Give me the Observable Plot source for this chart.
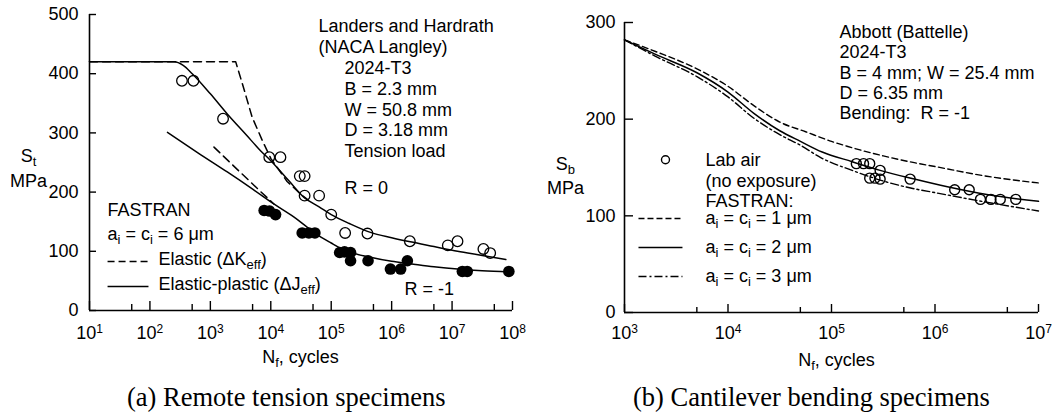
<!DOCTYPE html>
<html><head><meta charset="utf-8">
<script src="https://cdn.jsdelivr.net/npm/d3@7"></script>
<script src="https://cdn.jsdelivr.net/npm/@observablehq/plot@0.6"></script>
<style>
body{margin:0;background:#fff;}
#wrap{position:relative;width:1052px;height:417px;overflow:hidden;background:#fff;}
#left{position:absolute;left:0;top:0;}
#right{position:absolute;left:530px;top:0;}
.cap{position:absolute;top:382px;font-family:"Liberation Serif","Times New Roman",serif;font-size:26.5px;line-height:30px;white-space:nowrap;color:#000;}
</style></head><body>
<div id="wrap"><div id="left"></div><div id="right"></div>
<div class="cap" style="left:127px">(a) Remote tension specimens</div>
<div class="cap" style="left:633px">(b) Cantilever bending specimens</div></div>
<script>
// ---------- (a) Remote tension (Landers and Hardrath) ----------
const tensionR0N = [339, 525, 1622, 9440, 14450, 30200, 36300, 36300, 63100, 100000, 170000, 398000, 2.0e6, 8.5e6, 1.23e7, 3.3e7, 4.27e7];
const tensionR0S = [388, 388, 324, 259, 259, 227, 227, 194, 194, 162, 131, 130, 117, 110, 117, 104, 97];
const tensionRm1N = [7760, 9550, 12000, 33100, 42700, 53700, 138000, 166000, 209000, 209000, 407000, 955000, 1.41e6, 1.82e6, 1.48e7, 1.78e7, 8.7e7];
const tensionRm1S = [169, 168, 162, 131, 131, 131, 98, 99, 98, 84, 84, 70, 70, 84, 66, 66, 66];
// FASTRAN predictions
const epR0N = [10, 251, 355, 501, 1000, 1905, 3981, 6761, 10000, 19950, 35480, 63100, 1e5, 199500, 446700, 1e6, 2.04e6, 5.01e6, 1.23e7, 3.16e7, 7.76e7];
const epR0S = [420, 420, 414, 400, 366, 332, 296, 270, 253, 219, 191, 175, 162, 147, 132, 123, 116, 108, 100, 93, 86];
const eR0N = [10, 2630, 3388, 4898, 7244, 10000, 18620, 31620, 39810];
const eR0S = [420, 420, 383, 327, 287, 257, 218, 196, 188];
const epRm1N = [195, 631, 1905, 5012, 11220, 23990, 39810, 63100, 1e5, 144500, 199500, 446700, 1e6, 2.04e6, 5.01e6, 1.23e7, 3.16e7, 8.91e7];
const epRm1S = [301, 266, 234, 205, 180, 158, 141, 126, 114, 105, 99, 90, 83, 79, 74, 70, 67, 65];
const eRm1N = [1148, 3162, 6310, 11220];
const eRm1S = [276, 233, 204, 180];
const leftMajorTicks = [1e1, 1e2, 1e3, 1e4, 1e5, 1e6, 1e7, 1e8];
const leftMinorTicks = [5e1, 5e2, 5e3, 5e4, 5e5, 5e6, 5e7];
const leftYTicks = [0, 100, 200, 300, 400, 500];

// ---------- (b) Cantilever bending (Abbott) ----------
const labAirN = [173800, 204000, 234000, 295000, 234000, 263000, 295000, 575000, 1.55e6, 2.14e6, 2.75e6, 3.47e6, 4.27e6, 6.03e6];
const labAirS = [154, 154, 154, 147, 139, 139, 138, 138, 127, 127, 117, 117, 117, 117];
const a1N = [1000, 1995, 5012, 10000, 17780, 31620, 56230, 100000, 141300, 316200, 631000, 1e6, 3.162e6, 1e7];
const a1S = [282, 270, 252, 234, 214, 197, 187, 177, 172, 162, 155, 151, 141, 134];
const a2N = [1000, 1995, 5012, 10000, 17780, 31620, 50120, 81280, 158500, 295100, 631000, 1.318e6, 3.162e6, 1e7];
const a2S = [282, 267, 248, 228, 206, 188, 177, 166, 156, 147, 138, 130, 122, 115];
const a3N = [1000, 1995, 5012, 10000, 17780, 31620, 50120, 79430, 158500, 316200, 631000, 1e6, 2.512e6, 1e7];
const a3S = [282, 265, 244, 223, 201, 184, 173, 160, 147, 136, 128, 124, 116, 105];
const rightMajorTicks = [1e3, 1e4, 1e5, 1e6, 1e7];
const rightMinorTicks = [5e3, 5e4, 5e5, 5e6];
const rightYTicks = [0, 100, 200, 300];

const rows = (N, S) => N.map((n, i) => ({n, s: S[i]}));
const pow10 = d => `10^{${Math.round(Math.log10(d))}}`;
const font = {fontFamily: "'Liberation Sans', Arial, sans-serif", fontSize: "18px", background: "white", color: "black", overflow: "visible"};
const K = "black";

// turn _{..} / ^{..} into real sub/superscript tspans
function rich(svg) {
  const NS = "http://www.w3.org/2000/svg";
  svg.querySelectorAll("text, tspan").forEach(el => {
    if (el.children.length) return;
    const s = el.textContent;
    if (!/[_^]\{/.test(s)) return;
    el.textContent = "";
    let cur = 0;
    const add = (t, shift) => {
      const ts = document.createElementNS(NS, "tspan");
      ts.textContent = t;
      if (shift !== 0) ts.setAttribute("font-size", shift > 0 ? "13px" : "12px");
      const d = shift - cur;
      if (d !== 0) ts.setAttribute("dy", d);
      cur = shift;
      el.appendChild(ts);
    };
    const re = /([_^])\{([^}]*)\}/g;
    let last = 0, m;
    while ((m = re.exec(s))) {
      if (m.index > last) add(s.slice(last, m.index), 0);
      add(m[2], m[1] === "_" ? 4 : -6);
      last = re.lastIndex;
    }
    if (last < s.length) add(s.slice(last), 0);
  });
  return svg;
}

const txt = (t, o) => Plot.text([t], {text: d => d, fill: K, fontSize: 18, ...o});

// inward ticks: one short rule per tick from the axis into the plot (lengths in pixels)
function inwardTicks(dims, xDom, yDom, xMaj, xMin, yT, lens) {
  const fw = dims.width - dims.marginLeft - dims.marginRight;
  const fh = dims.height - dims.marginTop - dims.marginBottom;
  const yPer = (yDom[1] - yDom[0]) / fh;
  const decPer = Math.log10(xDom[1] / xDom[0]) / fw;
  const tx = (ticks, len) => Plot.ruleX(ticks, {x: d => d, y1: () => yDom[0], y2: () => yDom[0] + len * yPer, stroke: K, strokeWidth: 1.4});
  return [
    tx(xMaj, lens.xMaj), tx(xMin, lens.xMin),
    Plot.ruleY(yT, {y: d => d, x1: () => xDom[0], x2: () => xDom[0] * Math.pow(10, lens.y * decPer), stroke: K, strokeWidth: 1.4})
  ];
}

const L = {width: 530, height: 370, marginLeft: 89, marginRight: 18, marginTop: 14, marginBottom: 60};
const Lx = [10, 1e8], Ly = [0, 500];
const left = Plot.plot({
  ...L,
  style: font,
  x: {type: "log", domain: Lx},
  y: {domain: Ly},
  marks: [
    Plot.axisY({ticks: leftYTicks, tickSize: 0, tickPadding: 11, tickFormat: d => String(d), label: null, fill: K}),
    Plot.axisX({ticks: leftMajorTicks, tickSize: 0, tickPadding: 15.6, tickFormat: pow10, label: null, fill: K}),
    Plot.ruleX([10], {stroke: K, strokeWidth: 1.6}),
    Plot.ruleY([0], {stroke: K, strokeWidth: 1.6}),
    ...inwardTicks(L, Lx, Ly, leftMajorTicks, leftMinorTicks, leftYTicks, {xMaj: 9, xMin: 6, y: 7}),
    Plot.line(rows(eR0N, eR0S), {x: "n", y: "s", stroke: K, strokeWidth: 1.5, strokeDasharray: "8,5"}),
    Plot.line(rows(eRm1N, eRm1S), {x: "n", y: "s", stroke: K, strokeWidth: 1.5, strokeDasharray: "8,5"}),
    Plot.line(rows(epR0N, epR0S), {x: "n", y: "s", stroke: K, strokeWidth: 1.5, curve: "monotone-x"}),
    Plot.line(rows(epRm1N, epRm1S), {x: "n", y: "s", stroke: K, strokeWidth: 1.5, curve: "monotone-x"}),
    Plot.dot(rows(tensionR0N, tensionR0S), {x: "n", y: "s", r: 5.3, stroke: K, strokeWidth: 1.3, fill: "none"}),
    Plot.dot(rows(tensionRm1N, tensionRm1S), {x: "n", y: "s", r: 5.8, fill: K, stroke: "none"}),
    // annotations
    txt("Landers and Hardrath\n(NACA Langley)", {x: 61660, y: 463.7, textAnchor: "start", lineHeight: 1.167}),
    txt("2024-T3\nB = 2.3 mm\nW = 50.8 mm\nD = 3.18 mm\nTension load", {x: 1.66e5, y: 340.4, textAnchor: "start", lineHeight: 1.153}),
    txt("R = 0", {x: 1.66e5, y: 206, textAnchor: "start"}),
    txt("R = -1", {x: 1.63e6, y: 35.5, textAnchor: "start"}),
    txt("FASTRAN\na_{i} = c_{i} = 6 \u03bcm", {x: 19.9, y: 152, textAnchor: "start", lineHeight: 1.333}),
    Plot.link([0], {x1: 19.9, x2: 94.6, y1: 82.8, y2: 82.8, stroke: K, strokeWidth: 1.5, strokeDasharray: "7,4"}),
    Plot.link([0], {x1: 19.9, x2: 94.6, y1: 40.5, y2: 40.5, stroke: K, strokeWidth: 1.5}),
    txt("Elastic (\u0394K_{eff})", {x: 138.6, y: 86.1, textAnchor: "start"}),
    txt("Elastic-plastic (\u0394J_{eff})", {x: 138.6, y: 43.9, textAnchor: "start"}),
    txt("S_{t}\nMPa", {x: 0.979, y: 244, textAnchor: "middle", lineHeight: 1.167}),
    txt("N_{f}, cycles", {x: 31000, y: -79.4, textAnchor: "middle"})
  ]
});

const R = {width: 522, height: 370, marginLeft: 94, marginRight: 14, marginTop: 22, marginBottom: 58};
const Rx = [1e3, 1e7], Ry = [0, 300];
const right = Plot.plot({
  ...R,
  style: font,
  x: {type: "log", domain: Rx},
  y: {domain: Ry},
  marks: [
    Plot.axisY({ticks: rightYTicks, tickSize: 0, tickPadding: 9, tickFormat: d => String(d), label: null, fill: K}),
    Plot.axisX({ticks: rightMajorTicks, tickSize: 0, tickPadding: 13.6, tickFormat: pow10, label: null, fill: K}),
    Plot.ruleX([1e3], {stroke: K, strokeWidth: 1.6}),
    Plot.ruleY([0], {stroke: K, strokeWidth: 1.6}),
    ...inwardTicks(R, Rx, Ry, rightMajorTicks, rightMinorTicks, rightYTicks, {xMaj: 8, xMin: 5, y: 9}),
    Plot.line(rows(a1N, a1S), {x: "n", y: "s", stroke: K, strokeWidth: 1.4, strokeDasharray: "6,3.5", curve: "monotone-x"}),
    Plot.line(rows(a2N, a2S), {x: "n", y: "s", stroke: K, strokeWidth: 1.5, curve: "monotone-x"}),
    Plot.line(rows(a3N, a3S), {x: "n", y: "s", stroke: K, strokeWidth: 1.4, strokeDasharray: "8,3,2,3", curve: "monotone-x"}),
    Plot.dot(rows(labAirN, labAirS), {x: "n", y: "s", r: 5, stroke: K, strokeWidth: 1.4, fill: "none"}),
    // annotations
    txt("Abbott (Battelle)\n2024-T3\nB = 4 mm; W = 25.4 mm\nD = 6.35 mm\nBending:\u00a0 R = -1", {x: 119500, y: 248.7, textAnchor: "start", lineHeight: 1.125}),
    Plot.dot([0], {x: 2489, y: 158, r: 4, stroke: K, strokeWidth: 1.4, fill: "none"}),
    txt("Lab air\n(no exposure)\nFASTRAN:", {x: 6067, y: 137, textAnchor: "start", lineHeight: 1.14}),
    Plot.link([0], {x1: 1365, x2: 3631, y1: 97.2, y2: 97.2, stroke: K, strokeWidth: 1.4, strokeDasharray: "6,3"}),
    Plot.link([0], {x1: 1365, x2: 3631, y1: 67.2, y2: 67.2, stroke: K, strokeWidth: 1.5}),
    Plot.link([0], {x1: 1365, x2: 3631, y1: 37.2, y2: 37.2, stroke: K, strokeWidth: 1.4, strokeDasharray: "8,3,2,3"}),
    txt("a_{i} = c_{i} = 1 \u03bcm", {x: 6067, y: 97.2, textAnchor: "start"}),
    txt("a_{i} = c_{i} = 2 \u03bcm", {x: 6067, y: 67.2, textAnchor: "start"}),
    txt("a_{i} = c_{i} = 3 \u03bcm", {x: 6067, y: 37.2, textAnchor: "start"}),
    txt("S_{b}\nMPa", {x: 269, y: 143.7, textAnchor: "middle", lineHeight: 1.11}),
    txt("N_{f}, cycles", {x: 111700, y: -49.6, textAnchor: "middle"})
  ]
});

document.getElementById("left").appendChild(rich(left));
document.getElementById("right").appendChild(rich(right));
</script>
</body></html>
